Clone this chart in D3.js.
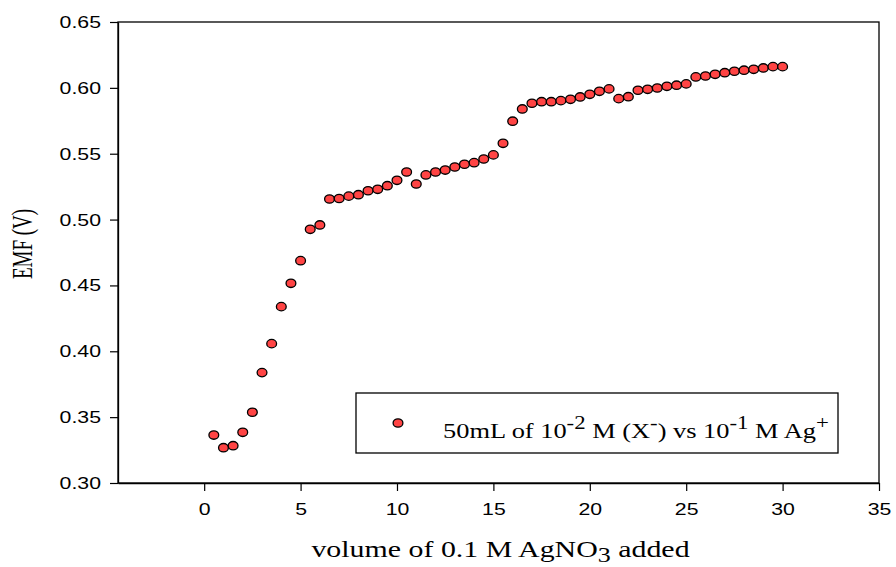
<!DOCTYPE html>
<html>
<head>
<meta charset="utf-8">
<script src="https://cdn.jsdelivr.net/npm/d3@7"></script>
<style>
  html, body { margin: 0; padding: 0; background: #fff; }
  svg { display: block; }
</style>
</head>
<body>
<svg id="chart" width="896" height="567"></svg>
<script>
// ---- data ----
const volume = [0.5,1.0,1.5,2.0,2.5,3.0,3.5,4.0,4.5,5.0,5.5,6.0,6.5,7.0,7.5,8.0,8.5,9.0,9.5,10.0,
  10.5,11.0,11.5,12.0,12.5,13.0,13.5,14.0,14.5,15.0,15.5,16.0,16.5,17.0,17.5,18.0,18.5,19.0,19.5,20.0,
  20.5,21.0,21.5,22.0,22.5,23.0,23.5,24.0,24.5,25.0,25.5,26.0,26.5,27.0,27.5,28.0,28.5,29.0,29.5,30.0];
const emf = [0.3364,0.3268,0.3283,0.3385,0.3537,0.3838,0.4058,0.4339,0.4516,0.4688,0.4926,0.4959,0.5156,0.5160,0.5178,0.5189,0.5219,0.5230,0.5257,0.5298,
  0.5361,0.5270,0.5339,0.5361,0.5376,0.5399,0.5420,0.5432,0.5460,0.5491,0.5579,0.5747,0.5840,0.5883,0.5895,0.5895,0.5903,0.5913,0.5931,0.5951,
  0.5974,0.5992,0.5918,0.5933,0.5982,0.5989,0.5999,0.6012,0.6020,0.6030,0.6083,0.6090,0.6103,0.6115,0.6126,0.6134,0.6141,0.6151,0.6161,0.6161];
const xTicks = [0,5,10,15,20,25,30,35];
const yTicks = [0.30,0.35,0.40,0.45,0.50,0.55,0.60,0.65];
const xDomain = [-4.47, 35];
const yDomain = [0.30, 0.65];
const xTitle = ["volume of 0.1 M AgNO", "3", " added"];
const yTitle = "EMF (V)";
const legendParts = [["50mL of 10",""],["-2","sup"],[" M (X",""],["-","sup"],[") vs 10",""],["-1","sup"],[" M Ag",""],["+","sup"]];

// ---- layout ----
const svg = d3.select("#chart");
const L = 118, R = 879, T = 22, B = 483;
const SX = 1.33; // horizontal stretch of the original picture
const x = d3.scaleLinear().domain(xDomain).range([L, R]);
const y = d3.scaleLinear().domain(yDomain).range([B, T]);

const serif = "'Liberation Serif', 'Times New Roman', serif";
const sans = "'Liberation Sans', Arial, sans-serif";

// frame
svg.append("rect").attr("x", L).attr("y", T).attr("width", R - L).attr("height", B - T)
  .attr("fill", "none").attr("stroke", "#000").attr("stroke-width", 1.3);

// axes
const gx = svg.append("g").attr("transform", `translate(0,${B})`)
  .call(d3.axisBottom(x).tickValues(xTicks).tickSize(8).tickSizeOuter(0).tickFormat(d3.format("d")));
const gy = svg.append("g").attr("transform", `translate(${L},0)`)
  .call(d3.axisLeft(y).tickValues(yTicks).tickSize(8).tickSizeOuter(0).tickFormat(d3.format(".2f")));
[gx, gy].forEach(g => {
  g.select(".domain").attr("stroke", "#000").attr("stroke-width", 1.3);
  g.selectAll(".tick line").attr("stroke", "#000").attr("stroke-width", 1.2);
  g.selectAll(".tick text").attr("fill", "#000").style("font-family", sans).style("font-size", "16px")
    .attr("dy", null).attr("dominant-baseline", "central");
});
gx.selectAll(".tick text").attr("y", null).attr("x", null)
  .attr("transform", `translate(0,26) scale(${SX},1)`);
gy.selectAll(".tick text").attr("x", null)
  .attr("transform", `translate(-17,0) scale(${SX},1)`);

// points
svg.append("g").selectAll("ellipse").data(volume.map((v, i) => [v, emf[i]])).join("ellipse")
  .attr("cx", d => x(d[0])).attr("cy", d => y(d[1]))
  .attr("rx", 4.9).attr("ry", 4.2)
  .attr("fill", "#ff4444").attr("stroke", "#000").attr("stroke-width", 1.3);

// x title
const xt = svg.append("text").attr("text-anchor", "middle")
  .attr("transform", `translate(${(L + R) / 2 + 2},557) scale(1.3,1)`)
  .style("font-family", serif).style("font-size", "23px").attr("fill", "#000");
xt.append("tspan").text(xTitle[0]);
xt.append("tspan").attr("dy", 5).style("font-size", "20px").text(xTitle[1]);
xt.append("tspan").attr("dy", -5).text(xTitle[2]);

// y title
svg.append("text").attr("text-anchor", "middle").attr("dominant-baseline", "central")
  .attr("transform", `translate(22,244) scale(1.55,1) rotate(-90)`)
  .style("font-family", serif).style("font-size", "19px").attr("fill", "#000").text(yTitle);

// legend
svg.append("rect").attr("x", 356).attr("y", 393).attr("width", 482).attr("height", 60)
  .attr("fill", "#fff").attr("stroke", "#000").attr("stroke-width", 1.3);
svg.append("ellipse").attr("cx", 398).attr("cy", 423).attr("rx", 4.9).attr("ry", 4.2)
  .attr("fill", "#ff4444").attr("stroke", "#000").attr("stroke-width", 1.3);
const lt = svg.append("text").attr("transform", `translate(443,438) scale(1.2,1)`)
  .style("font-family", serif).style("font-size", "22px").attr("fill", "#000");
let prevSup = false;
legendParts.forEach(([s, kind]) => {
  const t = lt.append("tspan").text(s);
  if (kind === "sup") { t.style("font-size", "19px"); }
  if (kind === "sup" && !prevSup) { t.attr("dy", -9); prevSup = true; }
  else if (kind !== "sup" && prevSup) { t.attr("dy", 9); prevSup = false; }
});
</script>
</body>
</html>
